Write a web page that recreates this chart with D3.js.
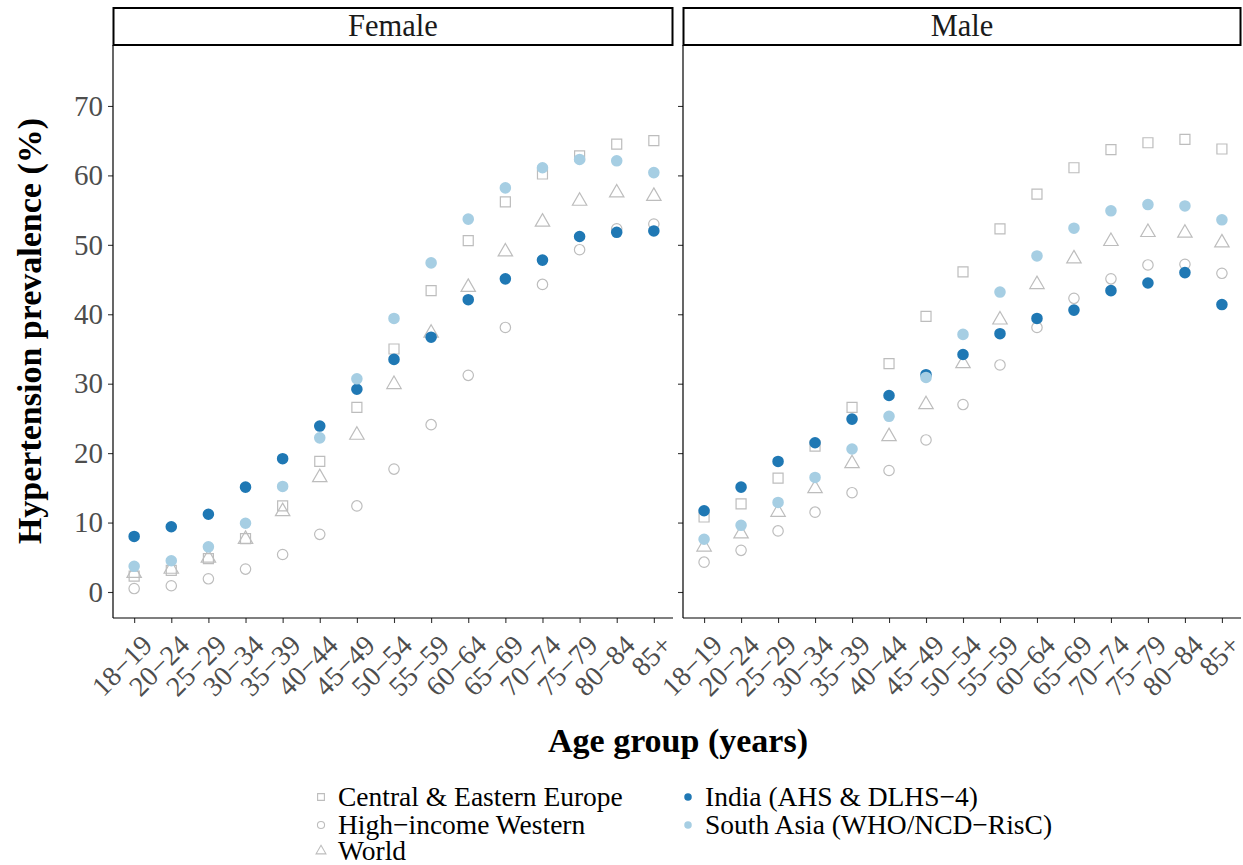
<!DOCTYPE html>
<html><head><meta charset="utf-8">
<script src="https://cdn.jsdelivr.net/npm/d3@7"></script>
<style>body{margin:0;background:#fff}svg{display:block}</style>
</head><body>
<script>
const ageGroups = ["18−19","20−24","25−29","30−34","35−39","40−44","45−49","50−54","55−59","60−64","65−69","70−74","75−79","80−84","85+"];
const panels = ["Female","Male"];
const seriesNames = ["Central & Eastern Europe","High−income Western","World","India (AHS & DLHS−4)","South Asia (WHO/NCD−RisC)"];
const yTicks = [0,10,20,30,40,50,60,70];

const femaleCEE   = [2.3,3.1,4.8,7.7,12.4,18.8,26.6,35.0,43.4,50.6,56.2,60.2,62.8,64.5,65.0];
const femaleHIW   = [0.5,0.9,1.9,3.3,5.4,8.3,12.4,17.7,24.1,31.2,38.1,44.3,49.3,52.3,53.0];
const femaleWorld = [2.7,3.3,4.9,7.6,11.6,16.5,22.6,29.9,37.3,43.9,49.0,53.3,56.3,57.5,57.0];
const femaleIndia = [8.0,9.4,11.2,15.1,19.2,23.9,29.2,33.5,36.7,42.1,45.1,47.8,51.2,51.8,52.0];
const femaleSA    = [3.7,4.5,6.5,9.9,15.2,22.2,30.7,39.4,47.4,53.7,58.2,61.1,62.3,62.1,60.4];

const maleCEE   = [10.8,12.7,16.4,21.0,26.6,32.9,39.7,46.1,52.3,57.3,61.1,63.7,64.7,65.2,63.8];
const maleHIW   = [4.3,6.0,8.8,11.5,14.3,17.5,21.9,27.0,32.7,38.1,42.3,45.1,47.1,47.2,45.9];
const maleWorld = [6.5,8.4,11.5,14.9,18.5,22.4,27.0,32.9,39.2,44.3,48.0,50.5,51.8,51.7,50.3];
const maleIndia = [11.7,15.1,18.8,21.5,24.9,28.3,31.3,34.2,37.2,39.4,40.6,43.4,44.5,46.0,41.4];
const maleSA    = [7.6,9.6,12.9,16.5,20.6,25.3,30.9,37.1,43.2,48.4,52.4,54.9,55.8,55.6,53.6];

const panelData = {
  Female: [femaleCEE, femaleHIW, femaleWorld, femaleIndia, femaleSA],
  Male:   [maleCEE, maleHIW, maleWorld, maleIndia, maleSA]
};

const W = 1243, H = 865;
const FONT = "'Liberation Serif','Times New Roman',serif";
const gray = "#bdbdbd";
const styles = [
  {shape: d3.symbolSquare, size: 100, fill: "none", stroke: gray, leg: 46},
  {shape: d3.symbolCircle, size: 85, fill: "none", stroke: gray, leg: 40},
  {shape: d3.symbolTriangle, size: 90, fill: "none", stroke: gray, leg: 42},
  {shape: d3.symbolCircle, size: 105, fill: "#1f78b4", stroke: "none", leg: 44},
  {shape: d3.symbolCircle, size: 105, fill: "#a6cee3", stroke: "none", leg: 44}
];

const svg = d3.select("body").append("svg").attr("width", W).attr("height", H)
  .style("font-family", FONT);

const panelX = {Female: [113, 675], Male: [683, 1243]};
const topY = 45, bottomY = 618, stripTop = 8;

const y = d3.scaleLinear().domain([-3.745, 78.78]).range([bottomY, topY]);

panels.forEach((p, pi) => {
  const [x0, x1] = panelX[p];
  const x = d3.scalePoint().domain(ageGroups).range([x0, x1]).padding(0.57);
  const g = svg.append("g");

  // strip
  g.append("rect").attr("x", x0 + 0.5).attr("y", stripTop).attr("width", x1 - x0 - 3).attr("height", topY - stripTop)
    .attr("fill", "#fff").attr("stroke", "#000").attr("stroke-width", 2);
  g.append("text").attr("x", (x0 + x1 - 2) / 2).attr("y", 36)
    .attr("text-anchor", "middle").attr("font-size", 30.5).attr("fill", "#1a1a1a").text(p);

  // y axis
  const yAx = g.append("g").attr("transform", `translate(${x0},0)`)
    .call(d3.axisLeft(y).tickValues(yTicks).tickSize(5).tickPadding(5).tickFormat(pi === 0 ? d3.format("d") : () => ""));
  yAx.select(".domain").remove();
  yAx.selectAll(".tick line").attr("stroke", "#333").attr("stroke-width", 1.1);
  yAx.selectAll(".tick text").attr("font-size", 29).attr("fill", "#4d4d4d").attr("font-family", FONT);
  g.append("line").attr("x1", x0).attr("x2", x0).attr("y1", topY).attr("y2", bottomY).attr("stroke", "#000").attr("stroke-width", 1.2);

  // x axis
  const xAx = g.append("g").attr("transform", `translate(0,${bottomY})`)
    .call(d3.axisBottom(x).tickSize(5).tickFormat(""));
  xAx.select(".domain").remove();
  xAx.selectAll(".tick line").attr("stroke", "#333").attr("stroke-width", 1.1);
  g.append("line").attr("x1", x0).attr("x2", x1 - 2).attr("y1", bottomY).attr("y2", bottomY).attr("stroke", "#000").attr("stroke-width", 1.2);
  g.selectAll(".xlab").data(ageGroups).join("text")
    .attr("class", "xlab")
    .attr("transform", d => `translate(${x(d) + 6},${bottomY + 15}) rotate(-45)`)
    .attr("text-anchor", "end").attr("dy", "0.7em")
    .attr("font-size", 28).attr("fill", "#4d4d4d").text(d => d);

  // points
  panelData[p].forEach((vals, si) => {
    const st = styles[si];
    const sym = d3.symbol().type(st.shape).size(st.size);
    g.append("g").selectAll("path").data(vals).join("path")
      .attr("transform", (v, i) => `translate(${x(ageGroups[i])},${y(v)})`)
      .attr("d", sym())
      .attr("fill", st.fill).attr("stroke", st.stroke).attr("stroke-width", 1.2);
  });
});

// axis titles
svg.append("text").attr("transform", `translate(41,331) rotate(-90)`)
  .attr("text-anchor", "middle").attr("font-size", 34).attr("font-weight", "bold").text("Hypertension prevalence (%)");
svg.append("text").attr("x", 678).attr("y", 752)
  .attr("text-anchor", "middle").attr("font-size", 34).attr("font-weight", "bold").text("Age group (years)");

// legend
const legendPos = [[321, 797], [321, 825], [321, 851], [688, 797], [688, 825]];
seriesNames.forEach((name, i) => {
  const st = styles[i];
  const [lx, ly] = legendPos[i];
  svg.append("path").attr("transform", `translate(${lx},${ly})`)
    .attr("d", d3.symbol().type(st.shape).size(st.leg)())
    .attr("fill", st.fill).attr("stroke", st.stroke).attr("stroke-width", 1.1);
  svg.append("text").attr("x", lx + 17).attr("y", ly + 9).attr("font-size", 27.5).attr("fill", "#000").text(name);
});
</script>
</body></html>
